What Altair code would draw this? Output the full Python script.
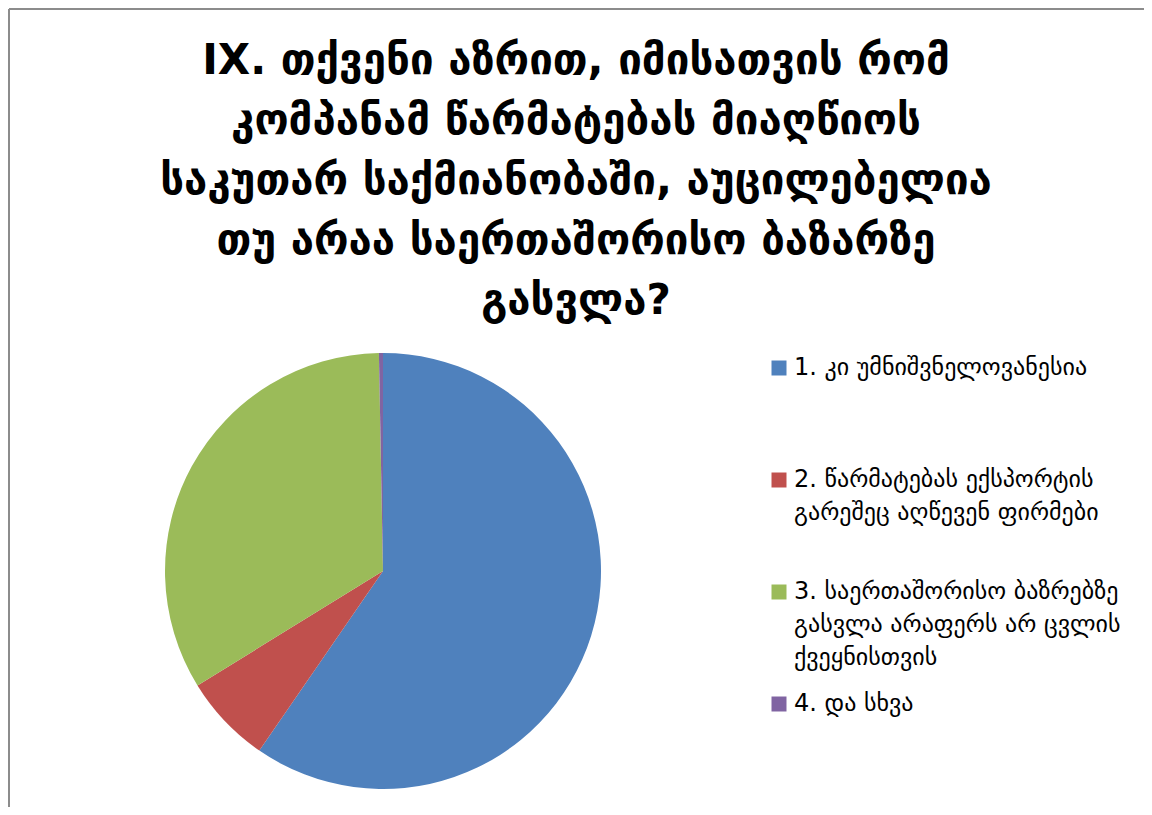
import altair as alt
import pandas as pd

title_lines = [
    "IX. თქვენი აზრით, იმისათვის რომ",
    "კომპანამ წარმატებას მიაღწიოს",
    "საკუთარ საქმიანობაში, აუცილებელია",
    "თუ არაა საერთაშორისო ბაზარზე",
    "გასვლა?",
]
categories = [
    "1. კი უმნიშვნელოვანესია",
    "2. წარმატებას ექსპორტის\nგარეშეც აღწევენ ფირმები",
    "3. საერთაშორისო ბაზრებზე\nგასვლა არაფერს არ ცვლის\nქვეყნისთვის",
    "4. და სხვა",
]
values = [59.6, 6.6, 33.5, 0.3]
colors = ["#4F81BD", "#C0504D", "#9BBB59", "#8064A2"]

W, H = 1136, 799

df = pd.DataFrame({"cat": categories, "value": values, "order": [1, 2, 3, 4]})
border_df = pd.DataFrame({"k": [0]})

legend = alt.Legend(
    title=None,
    orient="none",
    legendX=758,
    legendY=347,
    symbolType="square",
    symbolSize=225,
    symbolStrokeWidth=0,
    labelFont="DejaVu Sans",
    labelFontSize=24,
    labelColor="#000000",
    labelLimit=600,
    labelExpr="split(datum.label, '\\n')",
    gridAlign="all",
    rowPadding=22,
    labelOffset=3,
)

pie = (
    alt.Chart(df)
    .mark_arc(radius=218)
    .encode(
        theta=alt.Theta("value:Q", stack=True),
        order=alt.Order("order:Q"),
        color=alt.Color(
            "cat:N",
            sort=categories,
            scale=alt.Scale(domain=categories, range=colors),
            legend=legend,
        ),
        x=alt.value(374),
        y=alt.value(562),
    )
)
top_border = alt.Chart(border_df).mark_rule(color="#8c8c8c", strokeWidth=2).encode(
    x=alt.value(0), x2=alt.value(W), y=alt.value(0)
)
left_border = alt.Chart(border_df).mark_rule(color="#8c8c8c", strokeWidth=2).encode(
    x=alt.value(0), y=alt.value(0), y2=alt.value(H)
)

chart = (
    alt.layer(pie, top_border, left_border)
    .properties(
        width=W,
        height=H,
        autosize=alt.AutoSizeParams(type="fit", contains="padding"),
        padding=0,
        title=alt.TitleParams(
            text=title_lines,
            anchor="middle",
            frame="group",
            font="DejaVu Sans",
            fontWeight="bold",
            fontSize=42,
            lineHeight=60,
            color="#000000",
            offset=-315,
        ),
    )
    .configure(
        background="#ffffff",
        style={"guide-label": {"lineHeight": 33}},
        view={"stroke": "transparent", "strokeWidth": 0},
    )
)

chart.save("out.html", embed_options={"renderer": "svg", "actions": False})
